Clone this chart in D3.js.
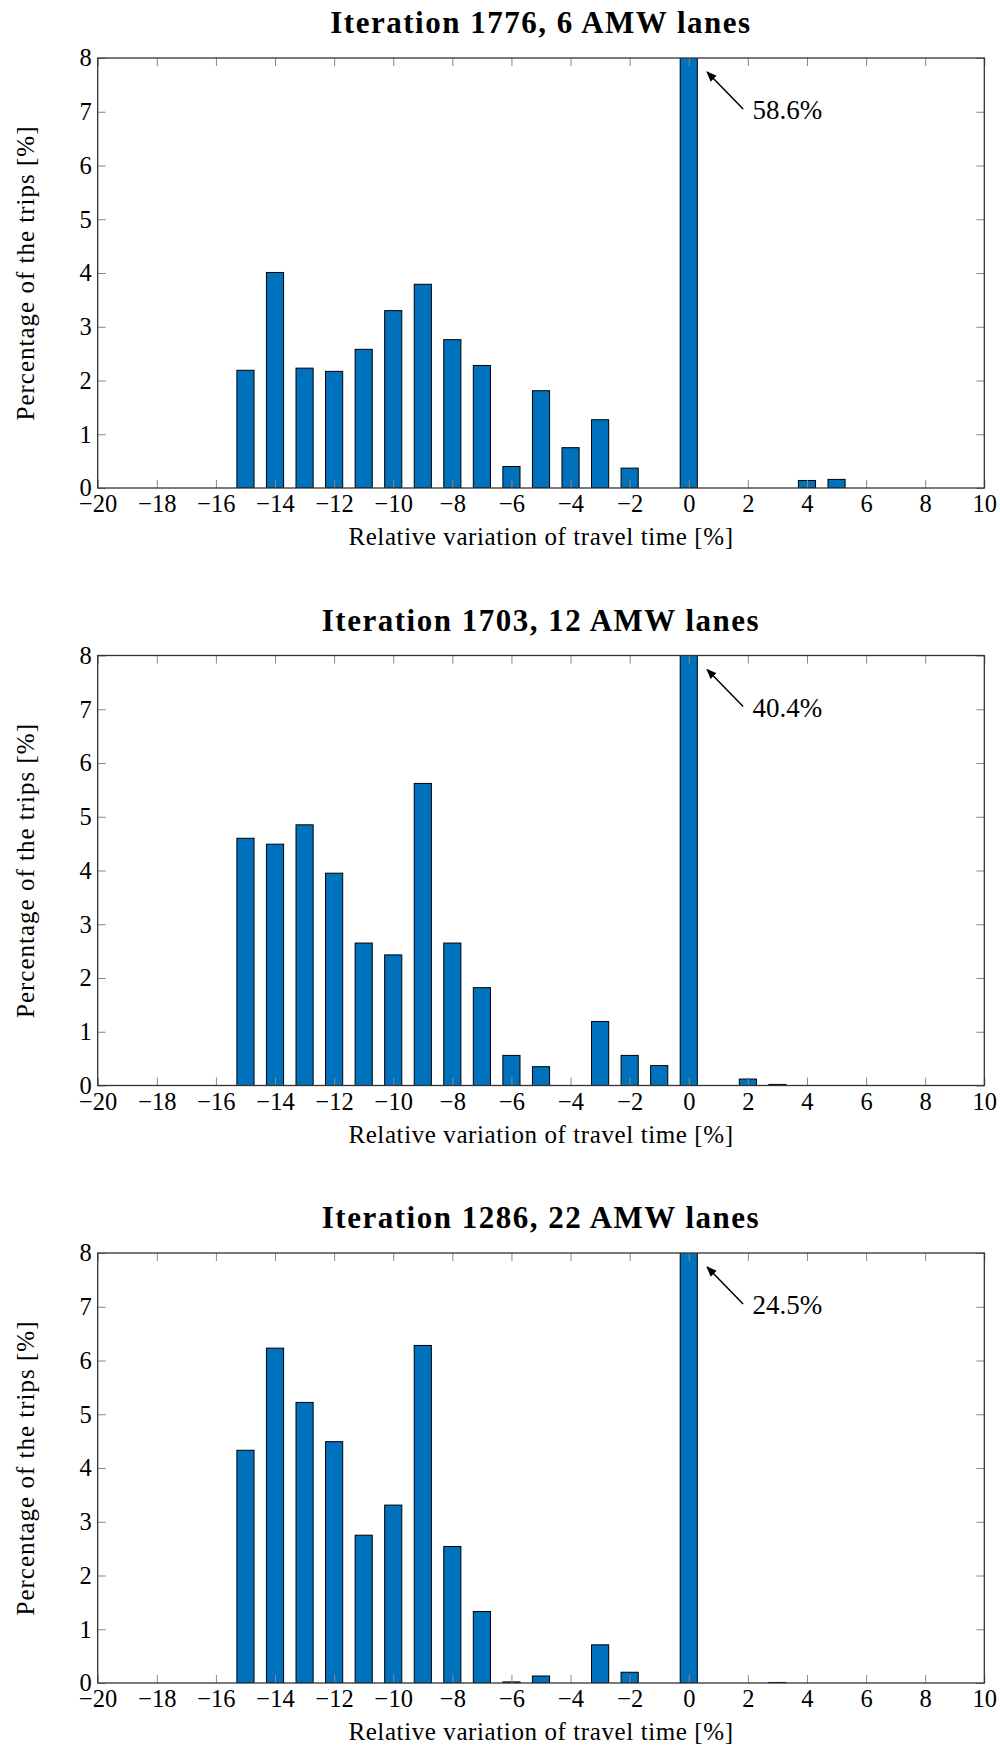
<!DOCTYPE html>
<html>
<head>
<meta charset="utf-8">
<script src="https://cdn.jsdelivr.net/npm/d3@7"></script>
<style>
  body { margin: 0; background: #fff; }
  text { font-family: "Liberation Serif", "DejaVu Serif", serif; fill: #000; }
</style>
</head>
<body>
<div class="chart"></div>
<script>
// bins of relative travel time variation [%]
var bins = [-15,-14,-13,-12,-11,-10,-9,-8,-7,-6,-5,-4,-3,-2,-1,0,1,2,3,4,5,6,7,8,9];

var values1776 = [2.19,4.01,2.23,2.17,2.58,3.30,3.79,2.76,2.28,0.40,1.81,0.75,1.27,0.37,0,58.6,0,0,0,0.14,0.16,0,0,0,0];
var values1703 = [4.60,4.49,4.85,3.95,2.65,2.43,5.62,2.65,1.82,0.56,0.35,0,1.19,0.56,0.37,40.4,0,0.12,0.02,0,0,0,0,0,0];
var values1286 = [4.33,6.23,5.22,4.49,2.75,3.31,6.28,2.54,1.33,0.02,0.13,0,0.71,0.20,0,24.5,0,0,0.01,0,0,0,0,0,0];

var titles = ['Iteration 1776, 6 AMW lanes', 'Iteration 1703, 12 AMW lanes', 'Iteration 1286, 22 AMW lanes'];
var peakLabels = ['58.6%', '40.4%', '24.5%'];

var xTicks = [-20,-18,-16,-14,-12,-10,-8,-6,-4,-2,0,2,4,6,8,10];
var yTicks = [0,1,2,3,4,5,6,7,8];

var panels = [values1776, values1703, values1286];

var width = 1000, height = 1746;
var left = 97.7, right = 984.3, plotH = 430;
var tops = [58, 655.5, 1253];

var svg = d3.select('.chart')
            .append('svg')
            .attr('width', width)
            .attr('height', height);

var defs = svg.append('defs');
defs.append('marker')
    .attr('id', 'head')
    .attr('viewBox', '0 0 10 10')
    .attr('refX', 9).attr('refY', 5)
    .attr('markerWidth', 7).attr('markerHeight', 7)
    .attr('orient', 'auto')
  .append('path')
    .attr('d', 'M0,1 L10,5 L0,9 z')
    .attr('fill', '#000');

var xScale = d3.scaleLinear().domain([-20, 10]).range([left, right]);
var barW = 0.58;

panels.forEach(function(vals, p){
  var top = tops[p];
  var yScale = d3.scaleLinear().domain([0, 8]).range([top + plotH, top]);

  var g = svg.append('g');

  defs.append('clipPath').attr('id', 'clip' + p)
    .append('rect')
    .attr('x', left).attr('y', top)
    .attr('width', right - left).attr('height', plotH);

  // bars
  g.append('g').attr('clip-path', 'url(#clip' + p + ')')
    .selectAll('rect')
    .data(bins)
    .enter()
    .append('rect')
    .attr('x', function(d){ return xScale(d - barW / 2); })
    .attr('width', function(d){ return xScale(barW) - xScale(0); })
    .attr('y', function(d, i){ return yScale(vals[i]); })
    .attr('height', function(d, i){ return yScale(0) - yScale(vals[i]); })
    .attr('fill', '#0072BD')
    .attr('stroke', '#000')
    .attr('stroke-width', 1);

  // axes (ticks inside)
  var xb = g.append('g').attr('transform', 'translate(0,' + yScale(0) + ')')
    .call(d3.axisBottom(xScale).tickValues(xTicks).tickSize(-8).tickPadding(7));
  var xt = g.append('g').attr('transform', 'translate(0,' + top + ')')
    .call(d3.axisTop(xScale).tickValues(xTicks).tickSize(-8).tickFormat(''));
  var yl = g.append('g').attr('transform', 'translate(' + left + ',0)')
    .call(d3.axisLeft(yScale).tickValues(yTicks).tickSize(-8).tickPadding(6));
  var yr = g.append('g').attr('transform', 'translate(' + right + ',0)')
    .call(d3.axisRight(yScale).tickValues(yTicks).tickSize(-8).tickFormat(''));

  [xb, xt, yl, yr].forEach(function(a){
    a.select('.domain').remove();
    a.selectAll('line').attr('stroke', '#888').attr('stroke-width', 1);
    a.selectAll('text').style('font-family', '"Liberation Serif", serif').style('font-size', '24.5px').attr('fill', '#000');
  });

  // box
  g.append('rect')
    .attr('x', left).attr('y', top)
    .attr('width', right - left).attr('height', plotH)
    .attr('fill', 'none')
    .attr('stroke', '#333')
    .attr('stroke-width', 1.3);

  // title
  g.append('text')
    .attr('x', (left + right) / 2).attr('y', top - 25)
    .attr('text-anchor', 'middle')
    .style('font-size', '31px').style('font-weight', 'bold')
    .style('letter-spacing', '1.5px')
    .text(titles[p]);

  // x label
  g.append('text')
    .attr('x', (left + right) / 2).attr('y', yScale(0) + 57)
    .attr('text-anchor', 'middle')
    .style('font-size', '25px')
    .style('letter-spacing', '0.6px')
    .text('Relative variation of travel time [%]');

  // y label
  g.append('text')
    .attr('transform', 'translate(34,' + (top + plotH / 2) + ') rotate(-90)')
    .attr('text-anchor', 'middle')
    .style('font-size', '25px')
    .style('letter-spacing', '1px')
    .text('Percentage of the trips [%]');

  // annotation for the clipped peak bar
  g.append('line')
    .attr('x1', xScale(1.84)).attr('y1', yScale(7.05))
    .attr('x2', xScale(0.62)).attr('y2', yScale(7.74))
    .attr('stroke', '#000').attr('stroke-width', 1.5)
    .attr('marker-end', 'url(#head)');
  g.append('text')
    .attr('x', xScale(2.16)).attr('y', yScale(6.86))
    .style('font-size', '27px')
    .text(peakLabels[p]);
});
</script>
</body>
</html>
